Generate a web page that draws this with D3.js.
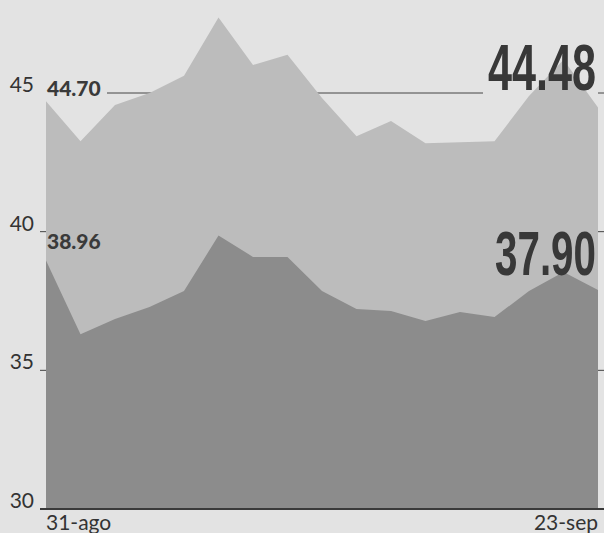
<!DOCTYPE html>
<html>
<head>
<meta charset="utf-8">
<script src="https://cdn.jsdelivr.net/npm/d3@7"></script>
<style>
  html, body { margin: 0; padding: 0; background: #e3e3e3; }
  svg { display: block; }
</style>
</head>
<body>
<svg id="chart" width="604" height="533"></svg>
<script>
// ---- data ----
const dates = ["2015-08-31","2015-09-01","2015-09-02","2015-09-03","2015-09-04",
  "2015-09-08","2015-09-09","2015-09-10","2015-09-11","2015-09-14","2015-09-15",
  "2015-09-16","2015-09-17","2015-09-18","2015-09-21","2015-09-22","2015-09-23"];
const upperSeries = [44.70, 43.26, 44.57, 45.00, 45.62, 47.72, 46.01, 46.38, 44.82,
  43.44, 43.99, 43.19, 43.22, 43.26, 44.89, 46.20, 44.48];
const lowerSeries = [38.96, 36.30, 36.85, 37.28, 37.86, 39.86, 39.09, 39.09, 37.86,
  37.21, 37.14, 36.78, 37.10, 36.92, 37.86, 38.55, 37.90];
const yTicks = [30, 35, 40, 45];
const xTickLabels = ["31-ago", "23-sep"];
const startLabels = ["44.70", "38.96"];
const endLabels = ["44.48", "37.90"];

// ---- layout ----
const svg = d3.select("#chart");
const paper = "#e3e3e3";
const x = d3.scalePoint().domain(dates).range([46, 598]);
const y = d3.scaleLinear().domain([30, 45]).range([509, 93]);

// gridlines
svg.append("g").selectAll("line").data(yTicks.slice(1)).join("line")
  .attr("x1", 40).attr("x2", 604)
  .attr("y1", d => y(d)).attr("y2", d => y(d))
  .attr("stroke", "#444").attr("stroke-width", 1);

// paper-coloured breaks in the 45 gridline around the labels
svg.append("rect").attr("x", 36).attr("y", y(45) - 3).attr("width", 71).attr("height", 6).attr("fill", paper);
svg.append("rect").attr("x", 483).attr("y", y(45) - 3).attr("width", 115).attr("height", 6).attr("fill", paper);

const area = vals => d3.area()
  .x((d, i) => x(dates[i]))
  .y0(y(30))
  .y1(d => y(d))(vals);

svg.append("path").attr("d", area(upperSeries)).attr("fill", "#bcbcbc");
svg.append("path").attr("d", area(lowerSeries)).attr("fill", "#8c8c8c");

// baseline axis
svg.append("line").attr("x1", 40).attr("x2", 604)
  .attr("y1", y(30)).attr("y2", y(30))
  .attr("stroke", "#3a3a3a").attr("stroke-width", 2);

// y tick labels
svg.append("g").selectAll("text").data(yTicks).join("text")
  .attr("x", 34).attr("y", d => y(d) - 1)
  .attr("text-anchor", "end")
  .attr("font-family", "Lato, 'Open Sans', sans-serif")
  .attr("font-size", 21)
  .attr("fill", "#333")
  .text(d => d);

// x labels
svg.append("text").attr("x", x(dates[0])).attr("y", 530)
  .attr("font-family", "Lato, 'Open Sans', sans-serif").attr("font-size", 21)
  .attr("fill", "#333").text(xTickLabels[0]);
svg.append("text").attr("x", x(dates[dates.length - 1])).attr("y", 530)
  .attr("text-anchor", "end")
  .attr("font-family", "Lato, 'Open Sans', sans-serif").attr("font-size", 21)
  .attr("fill", "#333").text(xTickLabels[1]);

// start labels
svg.append("text").attr("x", x(dates[0]) + 1).attr("y", y(upperSeries[0]) - 5)
  .attr("font-family", "Lato, 'Open Sans', sans-serif").attr("font-weight", 900)
  .attr("font-size", 21).attr("fill", "#3a3a3a").text(startLabels[0]);
svg.append("text").attr("x", x(dates[0]) + 1).attr("y", y(lowerSeries[0]) - 12)
  .attr("font-family", "Lato, 'Open Sans', sans-serif").attr("font-weight", 900)
  .attr("font-size", 21).attr("fill", "#3a3a3a").text(startLabels[1]);

// end labels (condensed, large) — squeeze horizontally with a scale transform
function bigLabel(txt, left, baseline, width, size) {
  const t = svg.append("text")
    .attr("font-family", "'Liberation Sans', 'DejaVu Sans', sans-serif")
    .attr("font-weight", "bold").attr("font-size", size)
    .attr("fill", "#383838").text(txt);
  const w = t.node().getComputedTextLength();
  const sx = width / w;
  t.attr("transform", `translate(${left},${baseline}) scale(${sx},1)`);
}
bigLabel(endLabels[0], 488, 90, 108, 65);
bigLabel(endLabels[1], 495, 275, 101, 63);
</script>
</body>
</html>
